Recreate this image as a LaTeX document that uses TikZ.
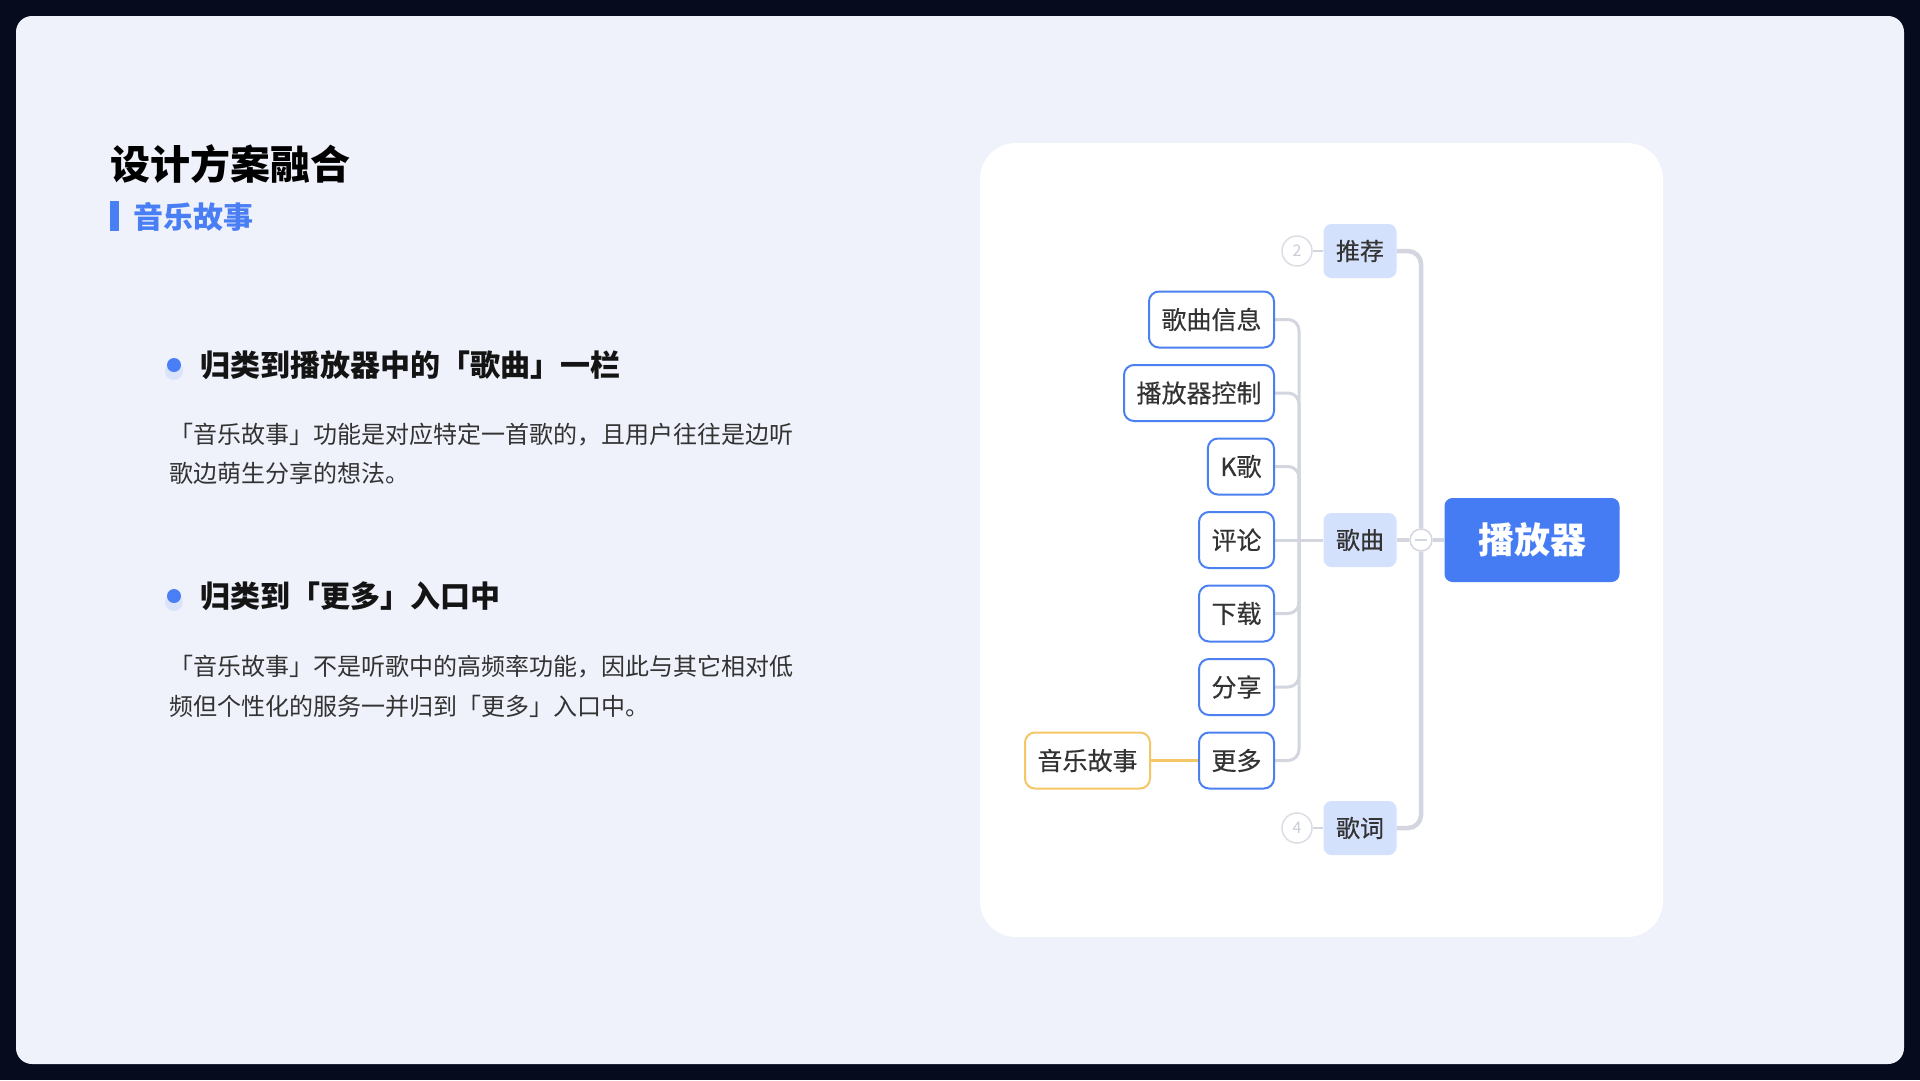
\documentclass[tikz,border=0pt]{standalone}
\usepackage{fontspec}
\setmainfont{Noto Sans CJK SC}
\newfontfamily\medfont[FakeBold=0.4]{Noto Sans CJK SC}
\definecolor{outerbg}{HTML}{060C1D}
\definecolor{panelbg}{HTML}{EFF2FB}
\definecolor{accent}{HTML}{4A7EF5}
\definecolor{rootblue}{HTML}{457CF3}
\definecolor{topicfill}{HTML}{D4E1FC}
\definecolor{linegray}{HTML}{D3D6DF}
\definecolor{subblue}{HTML}{4C80F0}
\definecolor{storyyellow}{HTML}{F4C766}
\definecolor{txt}{HTML}{333333}
\definecolor{numgray}{HTML}{C8CCD4}
\pgfdeclarelayer{bg}
\pgfdeclarelayer{edges}
\pgfsetlayers{bg,edges,main}
\tikzset{
  titletext/.style={anchor=west,inner sep=0pt,text=black,font=\fontsize{40}{48}\selectfont\bfseries},
  subtitletext/.style={anchor=west,inner sep=0pt,text=accent,font=\fontsize{30}{36}\selectfont\bfseries},
  headtext/.style={anchor=west,inner sep=0pt,text=black!92,font=\fontsize{30}{36}\selectfont\bfseries},
  bodytext/.style={anchor=west,inner sep=0pt,text=txt,font=\fontsize{24}{30}\selectfont},
  bulletdot/.style={circle,fill=accent,inner sep=0pt,minimum size=14pt},
  topic/.style={fill=topicfill,rounded corners=8pt,minimum width=73pt,minimum height=54pt,inner sep=0pt,text=txt,font=\fontsize{24}{28}\medfont},
  rootnode/.style={fill=rootblue,rounded corners=8pt,minimum width=175pt,minimum height=84pt,inner sep=0pt,text=white,font=\fontsize{36}{40}\selectfont\bfseries},
  subnode/.style={draw=subblue,line width=2pt,fill=white,rounded corners=10pt,minimum height=56pt,inner xsep=12.5pt,inner ysep=0pt,anchor=east,text=txt,font=\fontsize{25}{30}\medfont},
  storynode/.style={subnode,draw=storyyellow},
  collapse/.style={circle,draw=linegray,line width=1.5pt,fill=white,minimum size=22pt,inner sep=0pt},
  numcircle/.style={circle,draw=linegray!80,line width=1.5pt,fill=white,minimum size=30pt,inner sep=0pt,text=numgray,font=\fontsize{16}{18}\selectfont},
  mainline/.style={draw=linegray,line width=4.5pt,rounded corners=13pt},
  subline/.style={draw=linegray,line width=3pt,rounded corners=11pt},
  thinline/.style={draw=linegray,line width=2pt},
  storyline/.style={draw=storyyellow,line width=3pt},
}
\begin{document}
\begin{tikzpicture}[x=1pt,y=-1pt]
\useasboundingbox (0,0) rectangle (1920,1080);
\begin{pgfonlayer}{bg}
  \fill[outerbg] (0,0) rectangle (1920,1080);
  \fill[panelbg,rounded corners=16pt] (16,16) rectangle (1904,1064);
  \fill[white,rounded corners=36pt] (980,143) rectangle (1663,937);
\end{pgfonlayer}

% left text
\node[titletext] (title) at (110,164) {设计方案融合};
\fill[accent] (110,201) rectangle (119,231);
\node[subtitletext] (subtitle) at (133,217) {音乐故事};

\fill[accent,opacity=0.12] (174,371) circle (9pt);
\node[bulletdot] (dot1) at (174,365) {};
\node[headtext] (head1) at (200,365) {归类到播放器中的「歌曲」一栏};
\node[bodytext] (body1a) at (169,435) {「音乐故事」功能是对应特定一首歌的，且用户往往是边听};
\node[bodytext] (body1b) at (169,473) {歌边萌生分享的想法。};

\fill[accent,opacity=0.12] (174,602) circle (9pt);
\node[bulletdot] (dot2) at (174,596) {};
\node[headtext] (head2) at (200,596) {归类到「更多」入口中};
\node[bodytext] (body2a) at (169,667) {「音乐故事」不是听歌中的高频率功能，因此与其它相对低};
\node[bodytext] (body2b) at (169,706) {频但个性化的服务一并归到「更多」入口中。};

% mind map
\node[rootnode] (player) at (1532,540) {播放器};
\node[collapse] (col) at (1421,540) {};
\draw[linegray,line width=1.5pt] ([xshift=-6pt]col.center) -- ([xshift=6pt]col.center);
\node[topic] (rec) at (1360,251) {推荐};
\node[topic] (song) at (1360,540) {歌曲};
\node[topic] (lyr) at (1360,828) {歌词};
\node[numcircle] (n2) at (1297,251) {2};
\node[numcircle] (n4) at (1297,828) {4};

\node[subnode] (c1) at (1275,319.5) {歌曲信息};
\node[subnode] (c2) at (1275,393) {播放器控制};
\node[subnode] (c3) at (1275,466.5) {K歌};
\node[subnode] (c4) at (1275,540) {评论};
\node[subnode] (c5) at (1275,613.5) {下载};
\node[subnode] (c6) at (1275,687) {分享};
\node[subnode] (c7) at (1275,760.5) {更多};
\node[storynode] (story) at (1151,760.5) {音乐故事};
\coordinate (jn) at (1299,540);

\begin{pgfonlayer}{edges}
  \draw[mainline] (rec.east) -| (col.north);
  \draw[mainline] (lyr.east) -| (col.south);
  \draw[mainline] (song.east) -- (col.west);
  \draw[mainline] (col.east) -- (player.west);
  \draw[thinline] (n2) -- (rec);
  \draw[thinline] (n4) -- (lyr);
  \draw[subline] ([xshift=-2pt]c1.east) -| (jn);
  \draw[subline] ([xshift=-2pt]c2.east) -| (jn);
  \draw[subline] ([xshift=-2pt]c3.east) -| (jn);
  \draw[subline] ([xshift=-2pt]c5.east) -| (jn);
  \draw[subline] ([xshift=-2pt]c6.east) -| (jn);
  \draw[subline] ([xshift=-2pt]c7.east) -| (jn);
  \draw[subline] ([xshift=-2pt]c4.east) -- (song.west);
  \draw[storyline] (story.east) -- (c7.west);
\end{pgfonlayer}
\end{tikzpicture}
\end{document}
